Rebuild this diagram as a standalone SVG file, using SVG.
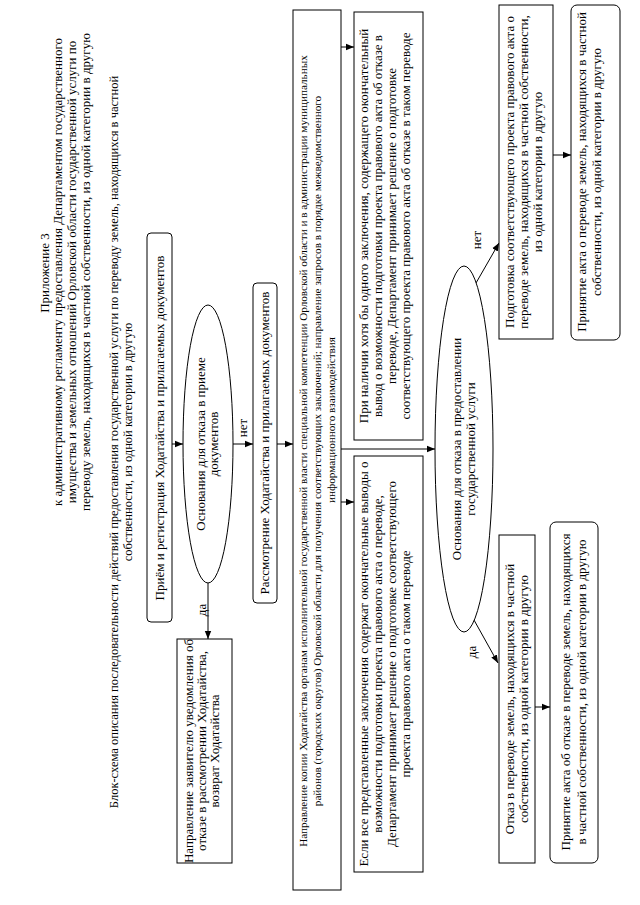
<svg xmlns="http://www.w3.org/2000/svg" width="640" height="905" viewBox="0 0 640 905">
<style>
.t{font-family:"Liberation Serif","Times New Roman",serif;font-size:13px;fill:#000;text-anchor:middle}
.s{font-size:11.2px}
.h{font-size:13px}
.b{fill:#fff;stroke:#000;stroke-width:1}
.c{fill:none;stroke:#000;stroke-width:1}
</style>
<defs>
<marker id="ah" viewBox="0 0 8 8" refX="8" refY="4" markerWidth="8" markerHeight="8" markerUnits="userSpaceOnUse" orient="auto">
<path d="M0,0.8 L8,4 L0,7.2 Z" fill="#000"/>
</marker>
</defs>
<rect width="640" height="905" fill="#fff"/>
<g id="header">
<text class="t h" transform="translate(49,273) rotate(-90)">Приложение 3</text>
<text class="t h" transform="translate(62,272) rotate(-90)">к административному регламенту предоставления Департаментом государственного</text>
<text class="t h" transform="translate(76,272) rotate(-90)">имущества и земельных отношений Орловской области государственной услуги по</text>
<text class="t h" transform="translate(90,272) rotate(-90)">переводу земель, находящихся в частной собственности, из одной категории в другую</text>
<text class="t" style="font-size:12.5px" transform="translate(118,442) rotate(-90)">Блок-схема описания последовательности действий предоставления государственной услуги по переводу земель, находящихся в частной</text>
<text class="t" style="font-size:12.5px" transform="translate(132,442) rotate(-90)">собственности, из одной категории в другую</text>
</g>
<g id="connectors">
<line class="c" x1="172" y1="444" x2="183" y2="444" marker-end="url(#ah)"/>
<line class="c" x1="233" y1="444" x2="253" y2="444" marker-end="url(#ah)"/>
<line class="c" x1="277" y1="444" x2="293" y2="444" marker-end="url(#ah)"/>
<line class="c" x1="208" y1="583" x2="208" y2="639" marker-end="url(#ah)"/>
<line class="c" x1="341" y1="47" x2="354" y2="47" marker-end="url(#ah)"/>
<line class="c" x1="341" y1="502" x2="354" y2="502" marker-end="url(#ah)"/>
<line class="c" x1="341" y1="449" x2="435" y2="449" marker-end="url(#ah)"/>
<line class="c" x1="476" y1="283" x2="499" y2="243" marker-end="url(#ah)"/>
<line class="c" x1="474" y1="620" x2="498" y2="663" marker-end="url(#ah)"/>
<line class="c" x1="553" y1="155" x2="571" y2="155" marker-end="url(#ah)"/>
<line class="c" x1="535" y1="707" x2="550" y2="707" marker-end="url(#ah)"/>
<text class="t" transform="translate(247,428) rotate(-90)">нет</text>
<text class="t" transform="translate(206,610) rotate(-90)">да</text>
<text class="t" transform="translate(481,240) rotate(-90)">нет</text>
<text class="t" transform="translate(476,652) rotate(-90)">да</text>
</g>
<g id="nodeA">
<rect class="b" x="147" y="233" width="25" height="389" rx="4"/>
<text class="t" transform="translate(164,428) rotate(-90)">Приём и регистрация Ходатайства и прилагаемых документов</text>
</g>
<g id="decision1">
<ellipse class="b" cx="208" cy="444" rx="25" ry="139"/>
<text class="t" transform="translate(205,444) rotate(-90)">Основания для отказа в приеме</text>
<text class="t" transform="translate(218,444) rotate(-90)">документов</text>
</g>
<g id="nodeB">
<rect class="b" x="253" y="283" width="24" height="320" rx="4"/>
<text class="t" transform="translate(269,443) rotate(-90)">Рассмотрение Ходатайства и прилагаемых документов</text>
</g>
<g id="nodeD">
<rect class="b" x="177" y="639" width="55" height="224"/>
<text class="t" transform="translate(193,751) rotate(-90)">Направление заявителю уведомления об</text>
<text class="t" transform="translate(206,751) rotate(-90)">отказе в рассмотрении Ходатайства,</text>
<text class="t" transform="translate(219,751) rotate(-90)">возврат Ходатайства</text>
</g>
<g id="nodeC">
<rect class="b" x="293" y="10" width="48" height="880"/>
<text class="t s" transform="translate(306.5,451) rotate(-90)">Направление копии Ходатайства органам исполнительной государственной власти специальной компетенции Орловской области и в администрации муниципальных</text>
<text class="t s" transform="translate(320.5,451) rotate(-90)">районов (городских округов) Орловской области для получения соответствующих заключений; направление запросов в порядке межведомственного</text>
<text class="t s" transform="translate(334.5,420) rotate(-90)">информационного взаимодействия</text>
</g>
<g id="nodeF">
<rect class="b" x="354" y="12" width="69" height="428"/>
<text class="t" transform="translate(368,226) rotate(-90)">При наличии хотя бы одного заключения, содержащего окончательный</text>
<text class="t" transform="translate(382,226) rotate(-90)">вывод о возможности подготовки проекта правового акта об отказе в</text>
<text class="t" transform="translate(396,226) rotate(-90)">переводе, Департамент принимает решение о подготовке</text>
<text class="t" transform="translate(410,226) rotate(-90)">соответствующего проекта правового акта об отказе в таком переводе</text>
</g>
<g id="nodeE">
<rect class="b" x="354" y="456" width="69" height="416"/>
<text class="t" transform="translate(368,664) rotate(-90)">Если все представленные заключения содержат окончательные выводы о</text>
<text class="t" transform="translate(382,664) rotate(-90)">возможности подготовки проекта правового акта о переводе,</text>
<text class="t" transform="translate(396,664) rotate(-90)">Департамент принимает решение о подготовке соответствующего</text>
<text class="t" transform="translate(410,664) rotate(-90)">проекта правового акта о таком переводе</text>
</g>
<g id="decision2">
<ellipse class="b" cx="464" cy="449" rx="29" ry="183"/>
<text class="t" transform="translate(461,449) rotate(-90)">Основания для отказа в предоставлении</text>
<text class="t" transform="translate(475,449) rotate(-90)">государственной услуги</text>
</g>
<g id="nodePrep">
<rect class="b" x="499" y="5" width="54" height="334"/>
<text class="t" transform="translate(514,172) rotate(-90)">Подготовка соответствующего проекта правового акта о</text>
<text class="t" transform="translate(528,172) rotate(-90)">переводе земель, находящихся в частной собственности,</text>
<text class="t" transform="translate(542,172) rotate(-90)">из одной категории в другую</text>
</g>
<g id="nodeAccept">
<rect class="b" x="571" y="5" width="49" height="335" rx="6"/>
<text class="t" transform="translate(586,172) rotate(-90)">Принятие акта о переводе земель, находящихся в частной</text>
<text class="t" transform="translate(601,172) rotate(-90)">собственности, из одной категории в другую</text>
</g>
<g id="nodeRefuse">
<rect class="b" x="499" y="535" width="36" height="328"/>
<text class="t" transform="translate(514,699) rotate(-90)">Отказ в переводе земель, находящихся в частной</text>
<text class="t" transform="translate(528,699) rotate(-90)">собственности, из одной категории в другую</text>
</g>
<g id="nodeRefuseAct">
<rect class="b" x="550" y="522" width="48" height="341" rx="6"/>
<text class="t" transform="translate(570,692) rotate(-90)">Принятие акта об отказе в переводе земель, находящихся</text>
<text class="t" transform="translate(586,692) rotate(-90)">в частной собственности, из одной категории в другую</text>
</g>
</svg>
